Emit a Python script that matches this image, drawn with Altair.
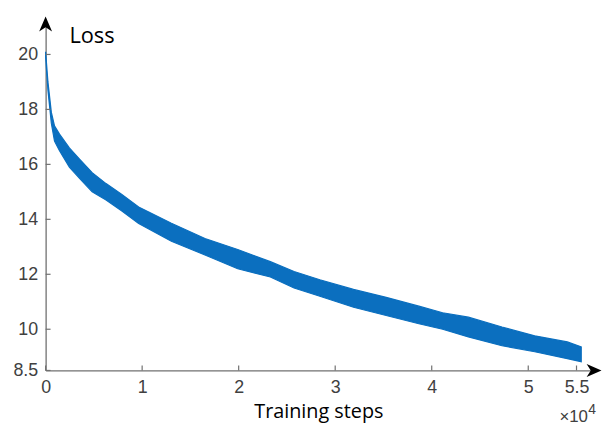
import altair as alt
import pandas as pd

# Training steps with the upper / lower edge of the noisy loss band
steps = [0, 240, 590, 920, 1440, 2460, 3490, 4820, 6260, 7900, 9640, 13030, 16510,
         19900, 23280, 25740, 28410, 31900, 35280, 38670, 41130, 43800, 47280, 50670,
         54050, 55490]
loss_upper = [20.1, 19.0, 17.9, 17.4, 17.1, 16.6, 16.2, 15.7, 15.3, 14.9, 14.45, 13.86,
              13.3, 12.9, 12.46, 12.1, 11.8, 11.45, 11.16, 10.84, 10.6, 10.44, 10.08,
              9.76, 9.54, 9.36]
loss_lower = [19.9, 18.7, 17.5, 16.85, 16.5, 15.9, 15.5, 15.0, 14.7, 14.3, 13.85, 13.2,
              12.7, 12.2, 11.9, 11.5, 11.2, 10.8, 10.5, 10.2, 10.0, 9.72, 9.4, 9.18,
              8.93, 8.82]

x_ticks = [0, 10000, 20000, 30000, 40000, 50000, 55000]
y_ticks = [8.5, 10, 12, 14, 16, 18, 20]
x_max = 56820
y_min, y_max = 8.5, 21.11

W, H = 554, 350
AXIS_GRAY = "#707070"
LABEL_GRAY = "#404040"
BLUE = "#0b6fbf"

band = pd.DataFrame({"step": steps, "upper": loss_upper, "lower": loss_lower})

xs = alt.Scale(domain=[0, x_max], nice=False, zero=False)
ys = alt.Scale(domain=[y_min, y_max], nice=False, zero=False)

x_axis = alt.Axis(values=x_ticks, labelExpr="datum.value / 10000", ticks=False, tickSize=0,
                  grid=False, domainColor=AXIS_GRAY, domainWidth=1.3, labelColor=LABEL_GRAY,
                  labelFont="Liberation Sans", labelFontSize=18, labelPadding=8, title=None,
                  labelFlush=False)
y_axis = alt.Axis(values=y_ticks, format=".1~f", ticks=False, tickSize=0, grid=False,
                  domainColor=AXIS_GRAY, domainWidth=1.3, labelColor=LABEL_GRAY,
                  labelFont="Liberation Sans", labelFontSize=18, labelPadding=8, title=None,
                  labelFlush=False)

area = alt.Chart(band).mark_area(color=BLUE, stroke=BLUE, strokeWidth=1.2).encode(
    x=alt.X("step:Q", scale=xs, axis=x_axis),
    y=alt.Y("upper:Q", scale=ys, axis=y_axis),
    y2="lower:Q",
)

xt = alt.Chart(pd.DataFrame({"v": x_ticks})).mark_rule(color=AXIS_GRAY, strokeWidth=1.2).encode(
    x=alt.X("v:Q", scale=xs), y=alt.value(H), y2=alt.value(H - 5))
yt = alt.Chart(pd.DataFrame({"v": y_ticks})).mark_rule(color=AXIS_GRAY, strokeWidth=1.2).encode(
    y=alt.Y("v:Q", scale=ys), x=alt.value(0), x2=alt.value(5))

up_arrow = alt.Chart(pd.DataFrame({"x": [0], "y": [y_max]})).mark_point(
    shape="M0,-1L0.87,1L0,0.45L-0.87,1Z", filled=True, color="black", opacity=1, size=225
).encode(x=alt.X("x:Q", scale=xs), y=alt.Y("y:Q", scale=ys))
right_arrow = alt.Chart(pd.DataFrame({"x": [x_max], "y": [y_min]})).mark_point(
    shape="M1,0L-1,0.87L-0.45,0L-1,-0.87Z", filled=True, color="black", opacity=1, size=225
).encode(x=alt.X("x:Q", scale=xs), y=alt.Y("y:Q", scale=ys))

loss_txt = alt.Chart(pd.DataFrame({"t": ["Loss"]})).mark_text(
    font="Open Sans", fontSize=22, color="black", align="left", baseline="alphabetic"
).encode(text="t:N", x=alt.value(24), y=alt.value(19))
steps_txt = alt.Chart(pd.DataFrame({"t": ["Training steps"]})).mark_text(
    font="Open Sans", fontSize=20, color="black", align="center", baseline="alphabetic"
).encode(text="t:N", x=alt.value(276), y=alt.value(398))
mult_txt = alt.Chart(pd.DataFrame({"t": ["×10"]})).mark_text(
    font="Liberation Sans", fontSize=17, color=LABEL_GRAY, align="left", baseline="alphabetic"
).encode(text="t:N", x=alt.value(519), y=alt.value(402))
exp_txt = alt.Chart(pd.DataFrame({"t": ["4"]})).mark_text(
    font="Liberation Sans", fontSize=14, color=LABEL_GRAY, align="left", baseline="alphabetic"
).encode(text="t:N", x=alt.value(548), y=alt.value(394))

chart = alt.layer(area, xt, yt, up_arrow, right_arrow, loss_txt, steps_txt, mult_txt, exp_txt).properties(
    width=W, height=H,
    autosize=alt.AutoSizeParams(type="none"),
    padding={"left": 38, "top": 14, "right": 8, "bottom": 55},
    background="white",
).configure_view(stroke=None)

chart.save("out.html", embed_options={"renderer": "svg", "actions": False})
